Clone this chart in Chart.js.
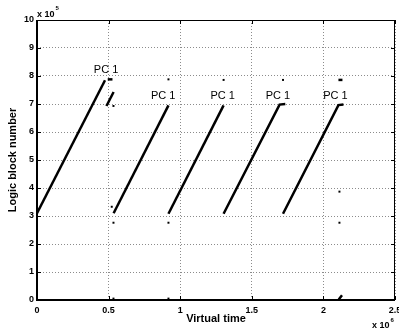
<!DOCTYPE html>
<html>
<head>
<meta charset="utf-8">
<script src="https://cdn.jsdelivr.net/npm/chart.js@4/dist/chart.umd.min.js"></script>
<style>
html,body{margin:0;padding:0;background:#fff;}
#wrap{width:399px;height:331px;}
</style>
</head>
<body>
<div id="wrap"><canvas id="c" width="399" height="331"></canvas></div>
<script>
// ---- data (x in units of 10^6, y in units of 10^5) ----
const xTickValues = [0, 0.5, 1, 1.5, 2, 2.5];
const xTickLabels = ["0", "0.5", "1", "1.5", "2", "2.5"];
const yTickValues = [0, 1, 2, 3, 4, 5, 6, 7, 8, 9, 10];
const yTickLabels = ["0", "1", "2", "3", "4", "5", "6", "7", "8", "9", "10"];

const sweep1X = [0, 0.475];
const sweep1Y = [3.1, 7.85];
const sweep1bX = [0.485, 0.535];
const sweep1bY = [6.93, 7.43];
const sweep2X = [0.535, 0.918];
const sweep2Y = [3.1, 6.95];
const sweep3X = [0.918, 1.303];
const sweep3Y = [3.08, 6.95];
const sweep4X = [1.303, 1.694, 1.734];
const sweep4Y = [3.08, 6.98, 7.0];
const sweep5X = [1.718, 2.105, 2.14];
const sweep5Y = [3.08, 6.96, 6.98];

const dash1X = [0.494, 0.527];
const dash1Y = [7.88, 7.88];
const dash2X = [2.105, 2.133];
const dash2Y = [7.86, 7.86];
const dash3X = [2.107, 2.13];
const dash3Y = [0.02, 0.17];

const dotsX = [0.534, 0.522, 0.534, 0.534, 0.918, 0.918, 0.918, 1.303, 1.718, 2.112, 2.112];
const dotsY = [6.93, 3.33, 2.76, 0.05, 7.88, 2.76, 0.05, 7.86, 7.86, 3.87, 2.76];

const labelText = "PC 1";
const labelX = [0.4825, 0.881, 1.297, 1.682, 2.084];
const labelY = [8.21, 7.29, 7.30, 7.30, 7.29];

// ---- build ----
const FONT = "'Liberation Sans', Arial, Helvetica, sans-serif";
function pts(xs, ys) { return xs.map((v, i) => ({x: v, y: ys[i]})); }
function lineSet(xs, ys) {
  return {data: pts(xs, ys), showLine: true, borderColor: '#000', borderWidth: 2.5,
          pointRadius: 0, fill: false, tension: 0, borderCapStyle: 'butt'};
}

const datasets = [
  lineSet(sweep1X, sweep1Y), lineSet(sweep1bX, sweep1bY),
  lineSet(sweep2X, sweep2Y), lineSet(sweep3X, sweep3Y),
  lineSet(sweep4X, sweep4Y), lineSet(sweep5X, sweep5Y),
  lineSet(dash1X, dash1Y), lineSet(dash2X, dash2Y), lineSet(dash3X, dash3Y),
  {data: pts(dotsX, dotsY), showLine: false, pointStyle: 'rect', pointRadius: 1.4,
   backgroundColor: '#000', borderWidth: 0}
];

const decor = {
  id: 'decor',
  afterDraw(chart) {
    const {ctx, chartArea: a, scales: {x, y}} = chart;
    ctx.save();
    ctx.setLineDash([]);
    ctx.strokeStyle = '#000';
    // box
    ctx.lineWidth = 1;
    ctx.beginPath();
    ctx.moveTo(a.left, a.top + 0.5); ctx.lineTo(a.right, a.top + 0.5);
    ctx.moveTo(a.right - 0.5, a.top); ctx.lineTo(a.right - 0.5, a.bottom);
    ctx.stroke();
    ctx.lineWidth = 2;
    ctx.beginPath();
    ctx.moveTo(a.left, a.top); ctx.lineTo(a.left, a.bottom + 1);
    ctx.moveTo(a.left - 1, a.bottom); ctx.lineTo(a.right, a.bottom);
    ctx.stroke();
    // inward ticks
    ctx.lineWidth = 1;
    ctx.beginPath();
    xTickValues.forEach(v => {
      const px = Math.round(x.getPixelForValue(v)) + 0.5;
      ctx.moveTo(px, a.bottom); ctx.lineTo(px, a.bottom - 4);
      ctx.moveTo(px, a.top); ctx.lineTo(px, a.top + 4);
    });
    yTickValues.forEach(v => {
      const py = Math.round(y.getPixelForValue(v)) + 0.5;
      ctx.moveTo(a.left, py); ctx.lineTo(a.left + 4, py);
      ctx.moveTo(a.right, py); ctx.lineTo(a.right - 4, py);
    });
    ctx.stroke();
    // labels
    ctx.fillStyle = '#000';
    ctx.font = '11px ' + FONT;
    ctx.textAlign = 'center';
    ctx.textBaseline = 'middle';
    labelX.forEach((v, i) => {
      ctx.fillText(labelText, x.getPixelForValue(v), y.getPixelForValue(labelY[i]));
    });
    // exponents
    ctx.textAlign = 'left';
    ctx.textBaseline = 'alphabetic';
    ctx.font = 'bold 9px ' + FONT;
    const base = 'x 10';
    const w = ctx.measureText(base).width;
    ctx.fillText(base, a.left, a.top - 3);
    ctx.fillText(base, a.right - 23, a.bottom + 28);
    ctx.font = 'bold 6px ' + FONT;
    ctx.fillText('5', a.left + w + 1, a.top - 10);
    ctx.fillText('6', a.right - 23 + w + 1, a.bottom + 22);
    ctx.restore();
  }
};

new Chart(document.getElementById('c'), {
  type: 'scatter',
  data: {datasets},
  options: {
    responsive: false,
    animation: false,
    devicePixelRatio: 1,
    layout: {padding: {left: 0, top: 20, right: 4, bottom: 0}},
    plugins: {legend: {display: false}, tooltip: {enabled: false}},
    scales: {
      x: {
        type: 'linear', min: 0, max: 2.5,
        afterBuildTicks: s => { s.ticks = xTickValues.map(v => ({value: v})); },
        ticks: {
          callback: (v) => { const i = xTickValues.indexOf(v); return i >= 0 ? xTickLabels[i] : ''; },
          font: {family: FONT, size: 9, weight: 'bold'}, color: '#000', padding: 5,
          maxRotation: 0, autoSkip: false
        },
        grid: {color: '#8c8c8c', lineWidth: 1, drawTicks: false},
        border: {display: false, dash: [1, 2]},
        title: {display: true, text: 'Virtual time', color: '#000',
                font: {family: FONT, size: 11, weight: 'bold'}, padding: {top: 0, bottom: 5}},
        afterFit: s => { s.height = 31; s.paddingLeft = 0; s.paddingRight = 0; }
      },
      y: {
        type: 'linear', min: 0, max: 10,
        afterBuildTicks: s => { s.ticks = yTickValues.map(v => ({value: v})); },
        ticks: {
          callback: (v) => { const i = yTickValues.indexOf(v); return i >= 0 ? yTickLabels[i] : ''; },
          font: {family: FONT, size: 9, weight: 'bold'}, color: '#000', padding: 3, autoSkip: false
        },
        grid: {color: '#8c8c8c', lineWidth: 1, drawTicks: false},
        border: {display: false, dash: [1, 2]},
        title: {display: true, text: 'Logic block number', color: '#000',
                font: {family: FONT, size: 11, weight: 'bold'}, padding: {top: 6, bottom: 0}},
        afterFit: s => { s.width = 37; s.paddingTop = 0; s.paddingBottom = 0; }
      }
    }
  },
  plugins: [decor]
});
</script>
</body>
</html>
